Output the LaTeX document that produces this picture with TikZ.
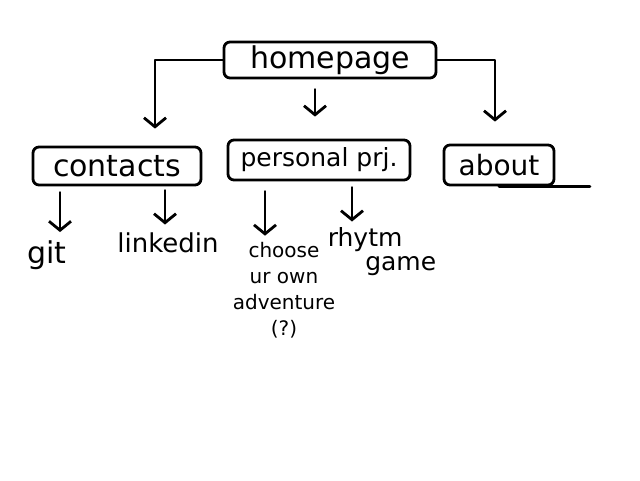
\documentclass[tikz,border=0pt]{standalone}
\usepackage{fontspec}
\setmainfont{DejaVu Sans}
\usetikzlibrary{arrows.meta}
\begin{document}
\begin{tikzpicture}[x=1pt,y=-1pt, line width=2.8pt, line cap=round, line join=round,
  box/.style={draw, rounded corners=6pt, inner xsep=4pt, inner ysep=2pt},
  leaf/.style={align=center, inner sep=1pt},
  arr/.style={-{Straight Barb[length=9pt,width=22pt]}}]
\useasboundingbox[fill=white] (0,0) rectangle (640,480);
\node[box, minimum width=212, minimum height=36, font=\fontsize{30}{30}\selectfont] (home) at (330,60) {homepage};
\node[box, minimum width=168, minimum height=38, font=\fontsize{30}{30}\selectfont] (contacts) at (117,166) {contacts};
\node[box, minimum width=182, minimum height=40, font=\fontsize{25}{26}\selectfont] (personal) at (319,160) {personal prj.};
\node[box, minimum width=110, minimum height=40, font=\fontsize{28}{28}\selectfont] (about) at (499,165) {about};
\node[leaf, font=\fontsize{30}{30}\selectfont] (git) at (47,255) {git};
\node[leaf, font=\fontsize{26}{26}\selectfont] (linkedin) at (168,243) {linkedin};
\node[leaf, font=\fontsize{20}{26}\selectfont] (choose) at (284,290) {choose\\ur own\\adventure\\(?)};
\node[leaf, align=left, font=\fontsize{25}{24}\selectfont] (rhytm) at (382,252) {rhytm\\\hspace*{1.5em}game};
\draw (about.south) -- (about.south -| 590,0);
\draw[arr, shorten >=17pt] (home.west) -| (contacts.north -| 155,0);
\draw[arr, shorten <=10pt, shorten >=22pt] (home.south -| 315,0) -- (personal.north -| 315,0);
\draw[arr, shorten >=22pt] (home.east) -| (about.north -| 495,0);
\draw[arr, shorten <=6pt, shorten >=6pt] (contacts.south -| 60,0) -- (git.north -| 60,0);
\draw[arr, shorten <=4pt, shorten >=6pt] (contacts.south -| 165,0) -- (linkedin.north -| 165,0);
\draw[arr, shorten <=10pt, shorten >=4pt] (personal.south -| 265,0) -- (choose.north -| 265,0);
\draw[arr, shorten <=6pt, shorten >=4pt] (personal.south -| 352,0) -- (rhytm.north -| 352,0);
\end{tikzpicture}
\end{document}
